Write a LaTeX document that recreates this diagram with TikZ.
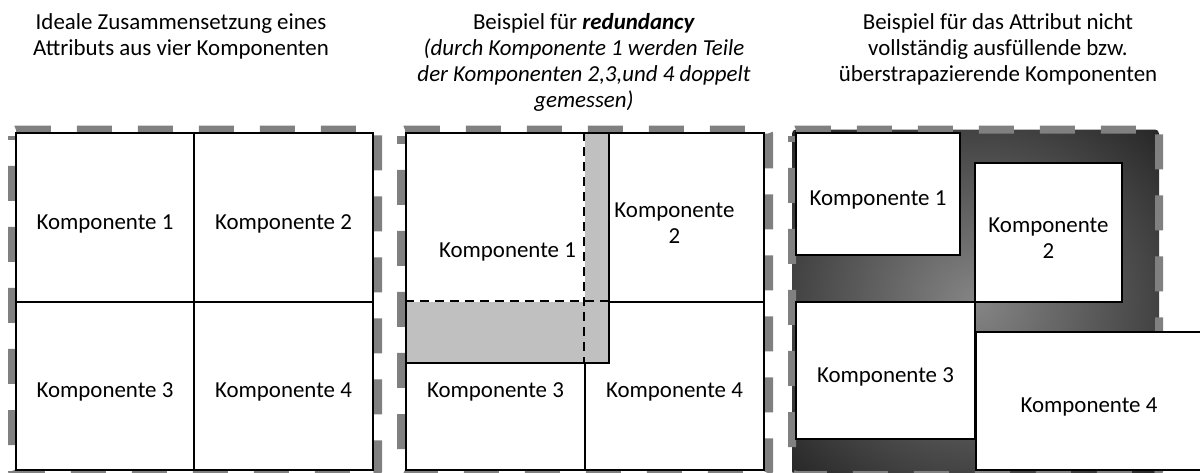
\documentclass[tikz,border=0pt]{standalone}
\usepackage{fontspec}
\setmainfont{Carlito}
\usetikzlibrary{fit}
\definecolor{framegray}{HTML}{808080}
\definecolor{overlap}{HTML}{C0C0C0}
\pgfdeclareradialshading{frameglow}{\pgfpoint{0bp}{0bp}}{color(0bp)=(black!48); color(50bp)=(black)}

\begin{document}
\begin{tikzpicture}[
    x=0.5pt, y=-0.5pt,
    every node/.style={font=\fontsize{11.45}{13}\selectfont},
    frame/.style={draw=framegray, line width=4pt, dash pattern=on 17.5pt off 13pt, dash phase=26.25pt, rounded corners=2pt},
    comp/.style={draw, line width=1pt, fill=white, inner sep=0pt},
    txt/.style={align=center, yshift=-3pt},
    overlapline/.style={line width=1pt, dash pattern=on 4.5pt off 3pt},
    title/.style={align=center, anchor=north, inner sep=0pt, font=\fontsize{11.45}{13}\selectfont}
]
\useasboundingbox (0,0) rectangle (1200,472);

% titles
\node[title] (titleA) at (181,13) {Ideale Zusammensetzung eines\\Attributs aus vier Komponenten};
\node[title] (titleB) at (584,13) {Beispiel für \textbf{\textit{redundancy}}\\\textit{(durch Komponente 1 werden Teile}\\\textit{der Komponenten 2,3,und 4 doppelt}\\\textit{gemessen)}};
\node[title] (titleC) at (998,13) {Beispiel für das Attribut nicht\\vollständig ausfüllende bzw.\\überstrapazierende Komponenten};

% ideal attribute
\draw[frame] (12,140) -- (12,129.5) -- (378,129.5) -- (378,475) -- (12,475) -- cycle;
\node[comp, fit={(16,133) (194,302)}] (ideal1) {};
\node[comp, fit={(194,133) (373,302)}] (ideal2) {};
\node[comp, fit={(16,302) (194,470)}] (ideal3) {};
\node[comp, fit={(194,302) (373,470)}] (ideal4) {};
\node[txt] (ideal1t) at (ideal1) {Komponente 1};
\node[txt] (ideal2t) at (ideal2) {Komponente 2};
\node[txt] (ideal3t) at (ideal3) {Komponente 3};
\node[txt] (ideal4t) at (ideal4) {Komponente 4};

% redundancy
\draw[frame] (401,140) -- (401,129.5) -- (769,129.5) -- (769,475) -- (401,475) -- cycle;
\node[comp, fit={(585,133) (764,302)}] (red2) {};
\node[comp, fit={(406,302) (585,470)}] (red3) {};
\node[comp, fit={(585,302) (764,470)}] (red4) {};
\node[txt] (red2t) at (red2) {Komponente\\2};
\node[txt] (red3t) at (red3) {Komponente 3};
\node[txt] (red4t) at (red4) {Komponente 4};
\node[comp, fill=overlap, fit={(406,133) (609,363)}] (red1) {};
\fill[white] (407,134) rectangle (585,302);
\draw[overlapline] (red2.north west) -- (red2.north west |- red1.south);
\draw[overlapline] (red3.north west) -- (red3.north west -| red1.east);
\node[txt, yshift=1pt] (red1t) at (red1) {Komponente 1};

% incomplete / overreaching components
\shade[shading=frameglow, rounded corners=2pt] (792,129.5) rectangle (1159,475);
\draw[frame] (792,140) -- (792,129.5) -- (1159,129.5) -- (1159,475) -- (792,475) -- cycle;
\node[comp, fit={(796,133) (960,255)}] (over1) {};
\node[comp, fit={(975,163) (1122,302)}] (over2) {};
\node[comp, fit={(796,302) (975,439)}] (over3) {};
\node[comp, fit={(976,332) (1202,470)}] (over4) {};
\node[txt] (over1t) at (over1) {Komponente 1};
\node[txt] (over2t) at (over2) {Komponente\\2};
\node[txt] (over3t) at (over3) {Komponente 3};
\node[txt] (over4t) at (over4) {Komponente 4};
\end{tikzpicture}
\end{document}
